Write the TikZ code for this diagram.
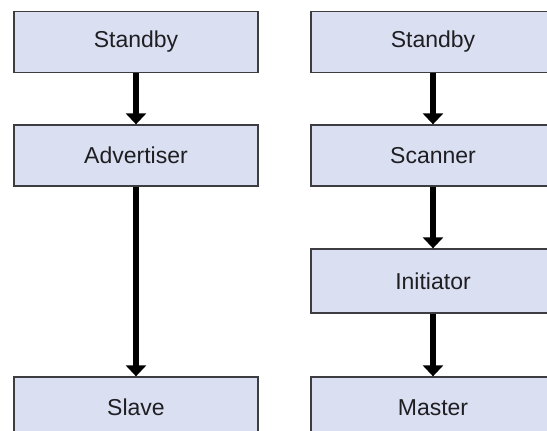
\documentclass[tikz,border=0pt]{standalone}
\usepackage{fontspec}
\setmainfont{Liberation Sans}
\usetikzlibrary{arrows.meta}
\definecolor{boxfill}{RGB}{218,224,241}
\definecolor{boxline}{RGB}{60,60,65}
\definecolor{txt}{RGB}{30,30,35}
\begin{document}
\begin{tikzpicture}[x=1pt,y=-1pt,
  statebox/.style={draw=boxline,line width=1.3pt,fill=boxfill,minimum width=244pt,minimum height=61pt,inner sep=0pt,text=txt,font=\fontsize{23}{26}\selectfont},
  flow/.style={line width=6pt,-{Triangle[width=20pt,length=11pt]}}]
\useasboundingbox (0,0) rectangle (547,431);
\node[statebox] (ls) at (136,42) {Standby};
\node[statebox] (la) at (136,155.5) {Advertiser};
\node[statebox] (lv) at (136,407.5) {Slave};
\node[statebox] (rs) at (433,42) {Standby};
\node[statebox] (rc) at (433,155.5) {Scanner};
\node[statebox,minimum height=64pt] (ri) at (433,281) {Initiator};
\node[statebox] (rm) at (433,407.5) {Master};
\draw[flow] (ls) -- (la);
\draw[flow] (la) -- (lv);
\draw[flow] (rs) -- (rc);
\draw[flow] (rc) -- (ri);
\draw[flow] (ri) -- (rm);
\end{tikzpicture}
\end{document}
